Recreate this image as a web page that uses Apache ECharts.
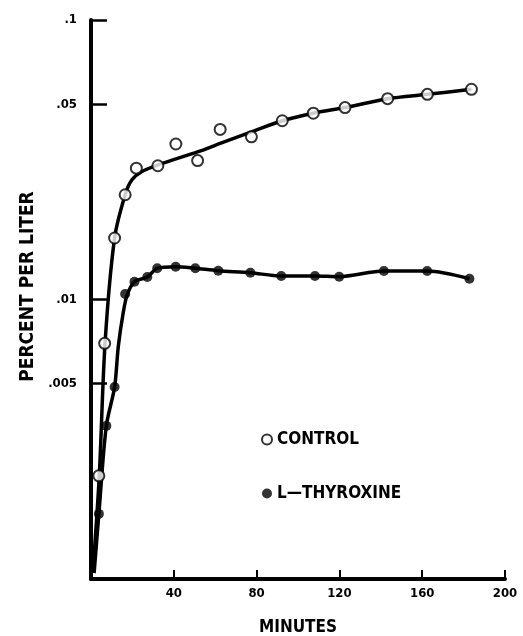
<!DOCTYPE html>
<html>
<head>
<meta charset="utf-8">
<script src="https://cdn.jsdelivr.net/npm/echarts@6/dist/echarts.min.js"></script>
<style>html,body{margin:0;padding:0;background:#fff}#c{width:523px;height:636px}</style>
</head>
<body>
<div id="c"></div>
<script>
// Observed points: [minutes, percent per liter]
const controlPoints = [[3.8,0.00234],[6.6,0.00697],[11.4,0.0166],[16.5,0.0237],[21.9,0.0295],[32.3,0.0301],[41,0.0360],[51.5,0.0314],[62.4,0.0406],[77.5,0.0382],[92.4,0.0436],[107.4,0.0464],[122.7,0.0486],[143.3,0.0523],[162.5,0.0542],[183.8,0.0565]];
const thyroxinePoints = [[3.8,0.00171],[7.4,0.00353],[11.4,0.00486],[16.5,0.01046],[21,0.01158],[27.2,0.01204],[32,0.01293],[40.9,0.0131],[50.4,0.01293],[61.5,0.01268],[77,0.01247],[91.9,0.01214],[108.2,0.01214],[119.9,0.01207],[141.5,0.01265],[162.4,0.01265],[182.8,0.01187]];
// Hand-drawn fitted curves
const controlCurve = [[1,0.00108],[4,0.00234],[6.8,0.0070],[11.4,0.0166],[16.5,0.0237],[19.8,0.0268],[24.6,0.0287],[32.3,0.0303],[51.8,0.0338],[62.4,0.0362],[77.5,0.0398],[92.4,0.0436],[107.3,0.0464],[122.7,0.0486],[143.3,0.0523],[162.5,0.0542],[183.8,0.0565]];
const thyroxineCurve = [[1.5,0.00105],[3.8,0.00171],[7.4,0.00353],[11.4,0.00486],[13.2,0.0068],[15.6,0.0090],[17.5,0.0104],[21,0.01158],[27.2,0.01204],[32,0.01293],[40.9,0.0131],[50.4,0.01293],[61.5,0.01268],[77,0.01247],[91.9,0.01214],[108.2,0.01214],[119.9,0.01207],[141.5,0.01265],[162.4,0.01265],[182.8,0.01187]];
const yTickValues = [0.005,0.01,0.05,0.1];
const yTickLabels = {0.005:'.005',0.01:'.01',0.05:'.05',0.1:'.1'};
const xTickValues = [40,80,120,160,200];

const FONT = "'DejaVu Sans Condensed','Liberation Sans Narrow','DejaVu Sans',sans-serif";
const chart = echarts.init(document.getElementById('c'), null, {renderer:'canvas'});
chart.setOption({
  animation:false,
  backgroundColor:'#fff',
  grid:{left:91,right:18,top:20,bottom:57,outerBoundsMode:'none',containLabel:false},
  legend:{
    orient:'vertical', left:256, top:426, itemGap:37,
    itemWidth:10, itemHeight:10,
    data:[{name:'CONTROL',icon:'circle'},{name:'L—THYROXINE',icon:'circle'}],
    textStyle:{fontFamily:FONT,fontWeight:'bold',fontSize:17,color:'#000'}
  },
  xAxis:{
    type:'value', min:0, max:200, interval:40,
    name:'MINUTES', nameLocation:'middle', nameGap:40,
    nameTextStyle:{fontFamily:FONT,fontWeight:'bold',fontSize:17,color:'#000'},
    axisLine:{lineStyle:{color:'#000',width:4}},
    axisTick:{inside:true,length:9,lineStyle:{color:'#000',width:2}},
    axisLabel:{showMinLabel:false,margin:8,fontFamily:FONT,fontWeight:'bold',fontSize:13,color:'#000'},
    splitLine:{show:false}
  },
  yAxis:{
    type:'log', logBase:10, min:0.001, max:0.1,
    name:'PERCENT PER LITER', nameLocation:'middle', nameGap:47, nameRotate:90,
    nameTextStyle:{fontFamily:FONT,fontWeight:'bold',fontSize:19,color:'#000',padding:[0,0,0,26]},
    axisLine:{lineStyle:{color:'#000',width:4}},
    axisTick:{inside:true,length:16,customValues:yTickValues,lineStyle:{color:'#000',width:2.5}},
    axisLabel:{customValues:yTickValues,margin:14,padding:[0,0,10,0],fontFamily:FONT,fontWeight:'bold',fontSize:13,color:'#000',
      formatter:function(v){ for(const k of yTickValues){ if(Math.abs(v-k)/k<1e-6) return yTickLabels[k]; } return ''; }},
    splitLine:{show:false}, minorTick:{show:false}
  },
  series:[
    {name:'controlCurve',type:'line',data:controlCurve,smooth:0.3,showSymbol:false,lineStyle:{color:'#000',width:3.5},z:2},
    {name:'thyroxineCurve',type:'line',data:thyroxineCurve,smooth:0.3,showSymbol:false,lineStyle:{color:'#000',width:3.5},z:2},
    {name:'CONTROL',type:'scatter',data:controlPoints,symbol:'circle',symbolSize:11,itemStyle:{color:'#fff',borderColor:'#000',borderWidth:2},z:5},
    {name:'L—THYROXINE',type:'scatter',data:thyroxinePoints,symbol:'circle',symbolSize:10,itemStyle:{color:'#000'},z:5}
  ]
});
</script>
</body>
</html>
